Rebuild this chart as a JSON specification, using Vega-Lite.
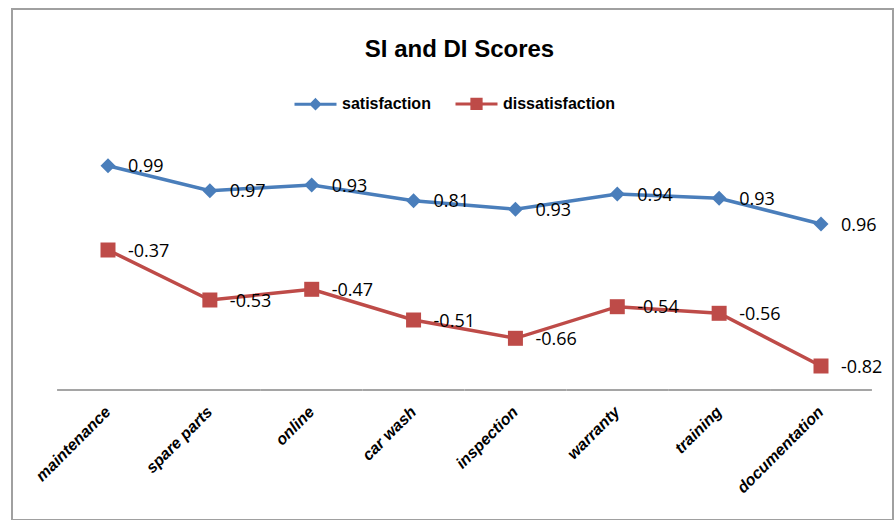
{
  "$schema": "https://vega.github.io/schema/vega-lite/v6.json",
  "autosize": {"type": "none"},
  "padding": {"left": 12, "top": 9, "right": 1, "bottom": 0},
  "width": 881,
  "height": 511,
  "background": "white",
  "config": {
    "view": {"stroke": "#A0A0A0", "strokeWidth": 2}
  },
  "title": {
    "text": "SI and DI Scores",
    "font": "Liberation Sans",
    "fontSize": 24,
    "fontWeight": "bold",
    "color": "#000000",
    "anchor": "middle",
    "frame": "group",
    "baseline": "alphabetic",
    "offset": -72,
    "dx": 7
  },
  "data": {
    "values": [
      {"category": "maintenance", "series": "satisfaction", "plotted": 2.233, "score": 0.99},
      {"category": "spare parts", "series": "satisfaction", "plotted": 1.983, "score": 0.97},
      {"category": "online", "series": "satisfaction", "plotted": 2.04, "score": 0.93},
      {"category": "car wash", "series": "satisfaction", "plotted": 1.883, "score": 0.81},
      {"category": "inspection", "series": "satisfaction", "plotted": 1.797, "score": 0.93},
      {"category": "warranty", "series": "satisfaction", "plotted": 1.95, "score": 0.94},
      {"category": "training", "series": "satisfaction", "plotted": 1.907, "score": 0.93},
      {"category": "documentation", "series": "satisfaction", "plotted": 1.65, "score": 0.96},
      {"category": "maintenance", "series": "dissatisfaction", "plotted": 1.39, "score": -0.37},
      {"category": "spare parts", "series": "dissatisfaction", "plotted": 0.89, "score": -0.53},
      {"category": "online", "series": "dissatisfaction", "plotted": 0.997, "score": -0.47},
      {"category": "car wash", "series": "dissatisfaction", "plotted": 0.69, "score": -0.51},
      {"category": "inspection", "series": "dissatisfaction", "plotted": 0.507, "score": -0.66},
      {"category": "warranty", "series": "dissatisfaction", "plotted": 0.823, "score": -0.54},
      {"category": "training", "series": "dissatisfaction", "plotted": 0.757, "score": -0.56},
      {"category": "documentation", "series": "dissatisfaction", "plotted": 0.23, "score": -0.82}
    ]
  },
  "encoding": {
    "x": {
      "field": "category",
      "type": "nominal",
      "scale": {
        "type": "band",
        "domain": ["maintenance", "spare parts", "online", "car wash", "inspection", "warranty", "training", "documentation"],
        "paddingInner": 0,
        "paddingOuter": 0.3247,
        "align": 0.6814
      },
      "axis": {
        "title": null,
        "orient": "bottom",
        "offset": -131,
        "domain": false,
        "ticks": false,
        "tickSize": 0,
        "grid": false,
        "labelAngle": -45,
        "labelAlign": "right",
        "labelBaseline": "middle",
        "labelPadding": 20,
        "labelFont": "Liberation Sans",
        "labelFontSize": 16,
        "labelFontWeight": "bold",
        "labelFontStyle": "italic",
        "labelColor": "#000000",
        "labelOverlap": false,
        "labelLimit": 0
      }
    },
    "y": {
      "field": "plotted",
      "type": "quantitative",
      "scale": {"domain": [-1.31, 3.8], "nice": false, "zero": false},
      "axis": null
    }
  },
  "layer": [
    {
      "transform": [{"filter": "datum.series === 'satisfaction'"}],
      "mark": {"type": "rect", "fill": "#A5A5A5"},
      "encoding": {
        "y": {"datum": 0, "type": "quantitative"},
        "y2": {"datum": -0.02}
      }
    },
    {
      "mark": {"type": "line", "strokeWidth": 3.5},
      "encoding": {
        "color": {
          "field": "series",
          "type": "nominal",
          "scale": {"domain": ["satisfaction", "dissatisfaction"], "range": ["#4A7EBB", "#BE4B48"]},
          "legend": {
            "title": null,
            "orient": "none",
            "legendX": 281,
            "legendY": 72,
            "direction": "horizontal",
            "padding": 0,
            "labelFont": "Liberation Sans",
            "labelFontSize": 16,
            "labelFontWeight": "bold",
            "labelColor": "#000000",
            "labelOffset": 4,
            "columnPadding": 18,
            "symbolSize": 1764,
            "symbolStrokeWidth": 3,
            "encode": {
              "symbols": {
                "update": {
                  "shape": {"signal": "datum.value === 'satisfaction' ? 'M-1,0L1,0M0,-0.2L0.2,0L0,0.2L-0.2,0Z' : 'M-1,0L1,0M-0.22,-0.22L0.22,-0.22L0.22,0.22L-0.22,0.22Z'"},
                  "fill": {"signal": "datum.value === 'satisfaction' ? '#4A7EBB' : '#BE4B48'"},
                  "stroke": {"signal": "datum.value === 'satisfaction' ? '#4A7EBB' : '#BE4B48'"},
                  "strokeWidth": {"value": 3},
                  "opacity": {"value": 1},
                  "size": {"value": 1764}
                }
              }
            }
          }
        }
      }
    },
    {
      "transform": [{"filter": "datum.series === 'satisfaction'"}],
      "mark": {"type": "point", "shape": "diamond", "filled": true, "opacity": 1, "size": 225},
      "encoding": {
        "color": {"field": "series", "type": "nominal"}
      }
    },
    {
      "transform": [{"filter": "datum.series === 'dissatisfaction'"}],
      "mark": {"type": "point", "shape": "square", "filled": true, "opacity": 1, "size": 225},
      "encoding": {
        "color": {"field": "series", "type": "nominal"}
      }
    },
    {
      "mark": {"type": "text", "align": "left", "baseline": "middle", "dx": 20, "dy": 1.5, "font": "Open Sans", "fontSize": 18, "color": "#000000"},
      "encoding": {
        "text": {"field": "score", "type": "nominal"}
      }
    }
  ]
}
